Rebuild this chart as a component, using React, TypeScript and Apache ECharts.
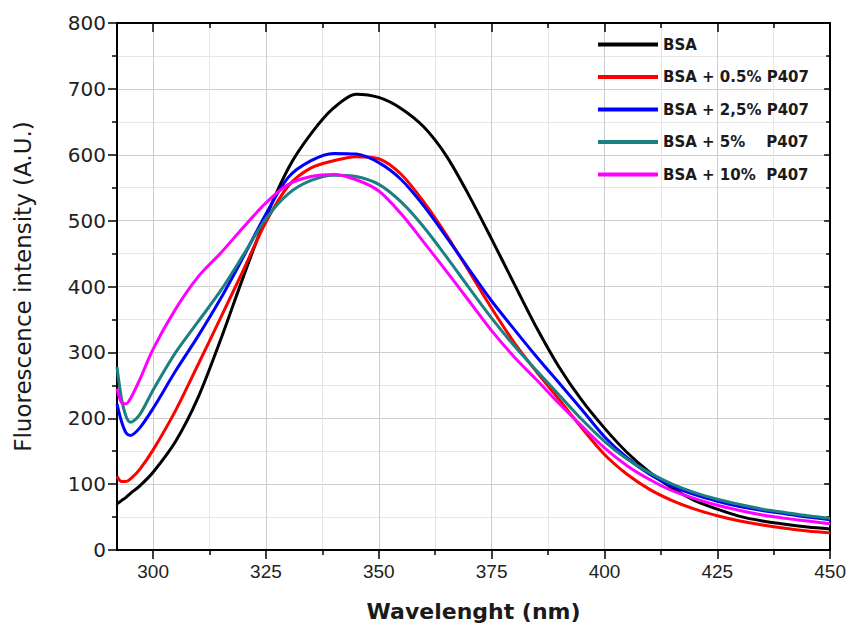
import React, { useEffect, useRef } from "react";
import * as echarts from "echarts";

const wavelengths = [292, 293, 294, 295, 297, 300, 305, 310, 315, 320, 325, 330, 335, 340, 345, 350, 355, 360, 365, 370, 375, 380, 385, 390, 395, 400, 405, 410, 415, 420, 425, 430, 435, 440, 445, 450];

const bsa = [70, 75, 80, 86, 97, 118, 165, 232, 320, 415, 505, 580, 632, 671, 692, 687, 670, 642, 598, 538, 472, 404, 337, 277, 227, 185, 148, 118, 94, 75, 62, 51, 44, 39, 35, 32];
const p05 = [112, 104, 104, 108, 122, 152, 212, 282, 353, 425, 498, 553, 580, 591, 597, 594, 570, 528, 478, 423, 367, 315, 270, 228, 185, 145, 115, 92, 75, 62, 52, 44, 38, 33, 29, 26];
const p25 = [222, 195, 178, 174, 185, 215, 272, 325, 382, 445, 510, 566, 591, 602, 601, 588, 562, 522, 475, 426, 378, 335, 293, 253, 213, 172, 140, 115, 97, 84, 74, 66, 60, 55, 50, 46];
const p5 = [278, 230, 203, 194, 205, 243, 300, 347, 394, 448, 503, 541, 561, 569, 567, 555, 528, 490, 445, 398, 352, 310, 272, 235, 198, 165, 138, 117, 100, 87, 77, 69, 62, 57, 52, 48];
const p10 = [245, 224, 222, 230, 258, 305, 366, 415, 451, 490, 527, 555, 567, 570, 562, 545, 510, 467, 423, 378, 333, 293, 258, 222, 188, 155, 128, 107, 90, 78, 68, 60, 53, 48, 44, 40];

const seriesNames = ["BSA", "BSA + 0.5% P407", "BSA + 2,5% P407", "BSA + 5%    P407", "BSA + 10%  P407"];
const seriesColors = ["#000000", "#ff0000", "#0000ff", "#1b8080", "#ff00ff"];
const seriesValues = [bsa, p05, p25, p5, p10];

const xMajorTicks = [300, 325, 350, 375, 400, 425, 450];
const xMinorTicks = [312.5, 337.5, 362.5, 387.5, 412.5, 437.5];

const FONT = "'Liberation Sans', Arial, Helvetica, sans-serif";
const WIDE = "'DejaVu Sans', 'Liberation Sans', Arial, sans-serif";

export default function App() {
  const ref = useRef<HTMLDivElement>(null);
  useEffect(() => {
    if (!ref.current) return;
    const chart = echarts.init(ref.current, undefined, { renderer: "svg" });
    const xBase = { type: "value", min: 292, max: 450, gridIndex: 0 };
    const option: any = {
      animation: false,
      backgroundColor: "#ffffff",
      textStyle: { fontFamily: FONT },
      grid: { left: 117, right: 18, top: 23, bottom: 82, containLabel: false },
      legend: {
        orient: "vertical",
        left: 593,
        top: 32,
        icon: "rect",
        itemWidth: 60,
        itemHeight: 4,
        itemGap: 17.5,
        data: seriesNames,
        textStyle: { fontFamily: WIDE, fontWeight: "bold", fontSize: 15, color: "#1a1a1a" },
      },
      xAxis: [
        {
          ...xBase,
          position: "bottom",
          name: "Wavelenght (nm)",
          nameLocation: "middle",
          nameGap: 50,
          nameTextStyle: { fontFamily: WIDE, fontWeight: "bold", fontSize: 22, color: "#1a1a1a" },
          axisLine: { show: true, lineStyle: { color: "#000", width: 2 } },
          axisTick: { show: true, customValues: xMajorTicks, length: 9, lineStyle: { color: "#000", width: 1.5 } },
          axisLabel: { customValues: xMajorTicks, fontFamily: FONT, fontSize: 19, color: "#222", margin: 12 },
          splitLine: { show: true, lineStyle: { color: "#cdcdcd", width: 1 } },
        },
        {
          ...xBase,
          position: "bottom",
          axisLine: { show: false },
          axisTick: { show: true, customValues: xMinorTicks, length: 5, lineStyle: { color: "#000", width: 1.5 } },
          axisLabel: { show: false },
          splitLine: { show: true, lineStyle: { color: "#e6e6e6", width: 1 } },
        },
        {
          ...xBase,
          position: "top",
          axisLine: { show: true, lineStyle: { color: "#000", width: 2 } },
          axisTick: { show: true, inside: true, customValues: xMajorTicks, length: 9, lineStyle: { color: "#000", width: 1.5 } },
          axisLabel: { show: false },
          splitLine: { show: false },
        },
        {
          ...xBase,
          position: "top",
          axisLine: { show: false },
          axisTick: { show: true, inside: true, customValues: xMinorTicks, length: 5, lineStyle: { color: "#000", width: 1.5 } },
          axisLabel: { show: false },
          splitLine: { show: false },
        },
      ],
      yAxis: [
        {
          type: "value",
          position: "left",
          min: 0,
          max: 800,
          interval: 100,
          name: "Fluorescence intensity (A.U.)",
          nameLocation: "middle",
          nameRotate: 90,
          nameGap: 83,
          nameTextStyle: { fontFamily: WIDE, fontSize: 23, color: "#1a1a1a" },
          axisLine: { show: true, lineStyle: { color: "#000", width: 2 } },
          axisTick: { show: true, length: 9, lineStyle: { color: "#000", width: 1.5 } },
          minorTick: { show: true, splitNumber: 2, length: 5, lineStyle: { color: "#000", width: 1.5 } },
          axisLabel: { fontFamily: WIDE, fontSize: 20, color: "#222", margin: 11 },
          splitLine: { show: true, lineStyle: { color: "#cdcdcd", width: 1 } },
          minorSplitLine: { show: true, lineStyle: { color: "#e6e6e6", width: 1 } },
        },
        {
          type: "value",
          position: "right",
          min: 0,
          max: 800,
          interval: 100,
          axisLine: { show: true, lineStyle: { color: "#000", width: 2 } },
          axisTick: { show: true, inside: true, length: 6, lineStyle: { color: "#000", width: 1.5 } },
          minorTick: { show: true, splitNumber: 2, length: 4, lineStyle: { color: "#000", width: 1.5 } },
          axisLabel: { show: false },
          splitLine: { show: false },
        },
      ],
      series: seriesNames.map((name, i) => ({
        name,
        type: "line",
        xAxisIndex: 0,
        yAxisIndex: 0,
        data: wavelengths.map((w, j) => [w, seriesValues[i][j]]),
        smooth: 0.3,
        showSymbol: false,
        symbol: "none",
        lineStyle: { color: seriesColors[i], width: 3 },
        itemStyle: { color: seriesColors[i] },
      })),
    };
    chart.setOption(option);
    return () => chart.dispose();
  }, []);
  return <div ref={ref} style={{ position: "fixed", left: 0, top: 0, width: 849, height: 632 }} />;
}
